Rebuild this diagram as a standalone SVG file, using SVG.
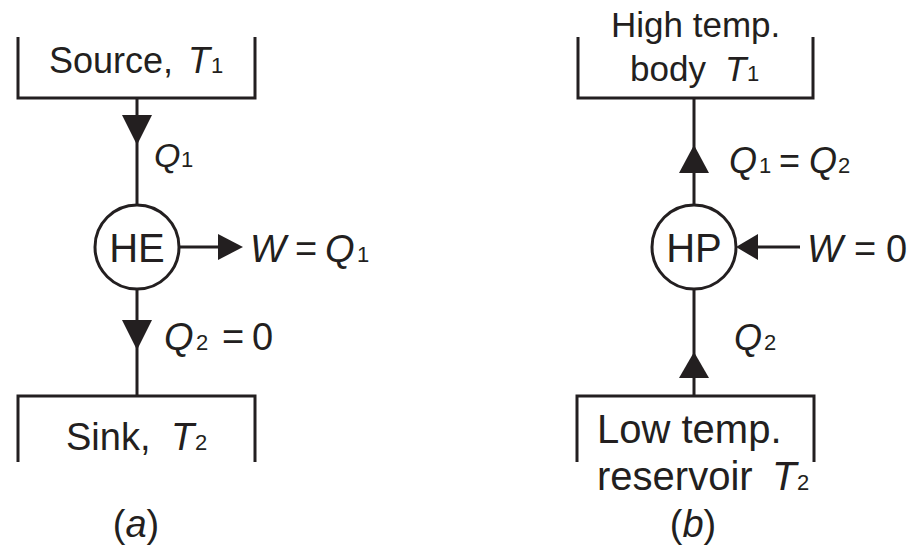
<svg xmlns="http://www.w3.org/2000/svg" width="918" height="549" viewBox="0 0 918 549">
<style>
.ln{fill:none;stroke:#231f20;stroke-width:3}
.ah{fill:#231f20}
text{font-family:"Liberation Sans",Arial,sans-serif;fill:#231f20}
.i{font-style:italic}
.s{font-size:22px}
</style>
<rect width="918" height="549" fill="#fff"/>
<g id="source">
<path class="ln" d="M18,37 V98 H255 V37"/>
<text y="73" font-size="36"><tspan x="49">Source,</tspan><tspan class="i" x="188">T</tspan><tspan class="s" x="211">1</tspan></text>
</g>
<g id="he">
<circle class="ln" cx="137" cy="247" r="42"/>
<text x="137" y="262" font-size="40" text-anchor="middle">HE</text>
</g>
<g id="sink">
<path class="ln" d="M18,462 V396 H255 V462"/>
<text y="450" font-size="38"><tspan x="66">Sink,</tspan><tspan class="i" x="171">T</tspan><tspan class="s" x="195">2</tspan></text>
</g>
<g id="high">
<path class="ln" d="M578,37 V98 H813 V37"/>
<text font-size="35"><tspan x="611" y="37">High temp.</tspan><tspan x="630" y="81">body</tspan><tspan class="i" x="725" y="81">T</tspan><tspan class="s" x="747" y="81">1</tspan></text>
</g>
<g id="hp">
<circle class="ln" cx="694" cy="247" r="42"/>
<text x="694" y="262" font-size="40" text-anchor="middle">HP</text>
</g>
<g id="low">
<path class="ln" d="M577,462 V396 H814 V462"/>
<text font-size="40"><tspan x="597" y="443">Low temp.</tspan><tspan x="597" y="490">reservoir</tspan><tspan class="i" x="772" y="490">T</tspan><tspan class="s" x="797" y="490">2</tspan></text>
</g>
<g id="connectors">
<path class="ln" d="M137,98 V205 M137,289 V396 M179,247 H220"/>
<polygon class="ah" points="122,115 152,115 137,145"/>
<polygon class="ah" points="122,320 152,320 137,350"/>
<polygon class="ah" points="218,234 243,247 218,260"/>
<path class="ln" d="M694,98 V205 M694,289 V396 M756,247 H800"/>
<polygon class="ah" points="679,173 709,173 694,145"/>
<polygon class="ah" points="679,378 709,378 694,352"/>
<polygon class="ah" points="758,234 736,247 758,260"/>
</g>
<g id="labels">
<text y="167" font-size="34"><tspan class="i" x="154">Q</tspan><tspan class="s" x="181">1</tspan></text>
<text y="262" font-size="38"><tspan class="i" x="250">W</tspan><tspan x="295">=</tspan><tspan class="i" x="325">Q</tspan><tspan class="s" x="357">1</tspan></text>
<text y="350" font-size="38"><tspan class="i" x="164">Q</tspan><tspan class="s" x="196">2</tspan><tspan x="222">=</tspan><tspan x="252">0</tspan></text>
<text y="173" font-size="36"><tspan class="i" x="729">Q</tspan><tspan class="s" x="759">1</tspan><tspan x="779">=</tspan><tspan class="i" x="809">Q</tspan><tspan class="s" x="838">2</tspan></text>
<text y="262" font-size="38"><tspan class="i" x="807">W</tspan><tspan x="854">=</tspan><tspan x="886">0</tspan></text>
<text y="350" font-size="36"><tspan class="i" x="734">Q</tspan><tspan class="s" x="764">2</tspan></text>
<text y="537" font-size="38" text-anchor="middle" x="136">(<tspan class="i">a</tspan>)</text>
<text y="537" font-size="38" text-anchor="middle" x="693">(<tspan class="i">b</tspan>)</text>
</g>
</svg>
